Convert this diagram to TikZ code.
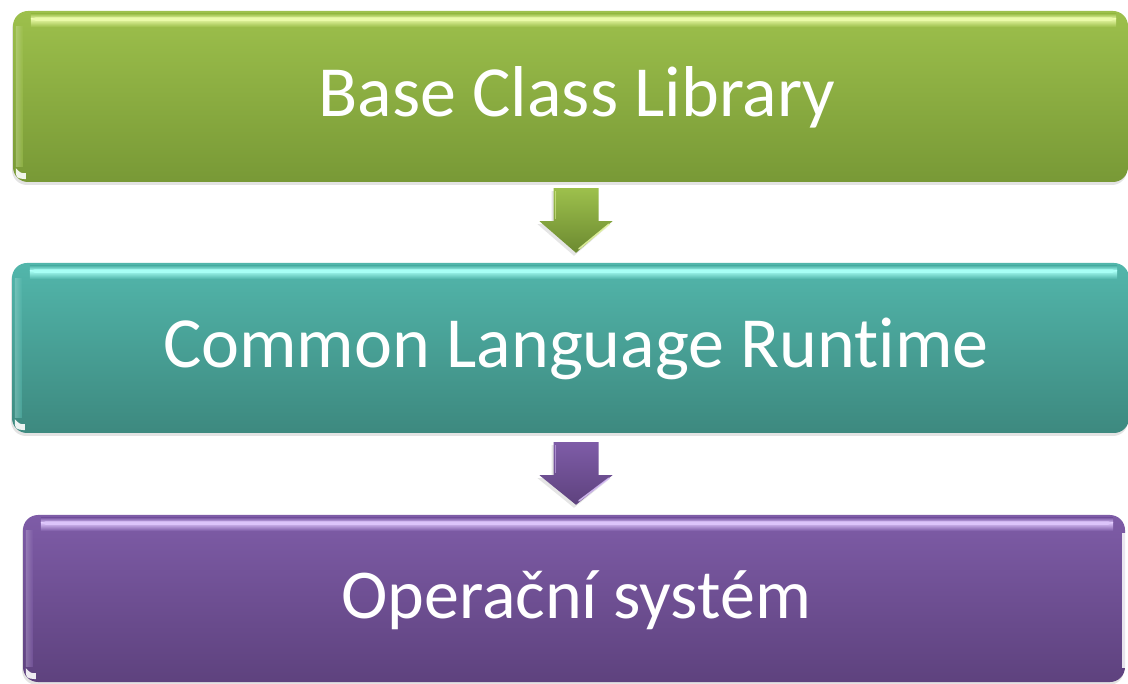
\documentclass[tikz,border=0pt]{standalone}
\usepackage{fontspec}
\setmainfont{Carlito}[Ligatures=NoCommon]
\usetikzlibrary{calc,shadows}

\definecolor{gTop}{HTML}{9DC04C}
\definecolor{gBot}{HTML}{789936}
\definecolor{gHi}{HTML}{EAFAA8}
\definecolor{tTop}{HTML}{52B6AB}
\definecolor{tBot}{HTML}{3D897F}
\definecolor{tHi}{HTML}{A8FFF5}
\definecolor{pTop}{HTML}{7E5CA7}
\definecolor{pBot}{HTML}{5E427E}
\definecolor{pHi}{HTML}{DCC4FA}

\tikzset{
  layerbox/.style={draw=none, rounded corners=15pt, text=white,
    inner sep=0pt,
    drop shadow={opacity=0.22, shadow xshift=-1pt, shadow yshift=-3pt}},
  layertext/.style={text=white, font=\fontsize{72}{80}\selectfont},
  glint/.style={fill=white, opacity=0.9},
}

% glossy highlight along the top edge and a glint at the lower left corner
\newcommand\topgloss[3]{%
  \shade[top color=#2, bottom color=#3]
    ($(#1.north west)+(18,3)$) rectangle ($(#1.north east)+(-12,8)$);
  \shade[top color=#3, bottom color=#2]
    ($(#1.north west)+(18,8)$) rectangle ($(#1.north east)+(-12,16)$);
  \fill[#3, rounded corners=3pt] ($(#1.north west)+(20,6.5)$) rectangle ($(#1.north east)+(-14,10)$);
  \shade[left color=#2!60!white, right color=#2, opacity=0.5]
    ($(#1.north west)+(3,16)$) rectangle ($(#1.south west)+(10,-16)$);
  \fill[glint] ($(#1.south west)+(3,-14)$) .. controls ($(#1.south west)+(3,-4)$) .. ($(#1.south west)+(13,-3)$)
    -- ($(#1.south west)+(13,-9)$) .. controls ($(#1.south west)+(8,-9)$) .. cycle;
}

% block arrow pointing down from coordinate #1 (top centre) to #2 (tip)
\newcommand\layerarrow[5]{%
  \shade[top color=#3, bottom color=#4,
    drop shadow={opacity=0.2, shadow xshift=-2pt, shadow yshift=-3pt}]
    ($(#1)+(-22.5,0)$) -- ($(#1)+(22.5,0)$) -- ($(#1)+(22.5,33)$)
    -- ($(#1)+(36.5,33)$) -- (#2) -- ($(#1)+(-36.5,33)$)
    -- ($(#1)+(-22.5,33)$) -- cycle;
  \draw[#5, line width=1.6pt, opacity=0.85, line cap=round]
    ($(#1)+(33,36)$) -- ($(#2)+(3,-4)$);
  \draw[#5, line width=1.2pt, opacity=0.5]
    ($(#1)+(-20.5,3)$) -- ($(#1)+(-20.5,31)$);
}

\begin{document}
\begin{tikzpicture}[x=1pt,y=-1pt]
  \fill[white] (0,0) rectangle (1128,684);
  \path[use as bounding box] (0,0) rectangle (1128,684);
  \clip (0,0) rectangle (1128,684);

  \node[layerbox, top color=gTop, bottom color=gBot,
        minimum width=1115pt, minimum height=171pt] (bcl) at (570.5,96.5) {};
  \node[layerbox, top color=tTop, bottom color=tBot,
        minimum width=1117pt, minimum height=170pt] (clr) at (570.5,348) {};
  \node[layerbox, top color=pTop, bottom color=pBot,
        minimum width=1102pt, minimum height=167pt] (os) at (574,598.5) {};

  \topgloss{bcl}{gTop}{gHi}
  \topgloss{clr}{tTop}{tHi}
  \topgloss{os}{pTop}{pHi}
  \fill[white, opacity=0.85] ($(os.north east)+(-3,18)$) rectangle ($(os.south east)+(1,-14)$);

  \node[layertext] (bcltext) at (577,97) {Base Class Library};
  \node[layertext] (clrtext) at (576,349) {Common Language Runtime};
  \node[layertext, font=\fontsize{70}{78}\selectfont] (ostext) at (576,600) {Operační systém};

  \coordinate (a1top) at ($(bcl.south)+(5.5,6)$);
  \coordinate (a1tip) at ($(clr.north)+(5.5,-10)$);
  \coordinate (a2top) at ($(clr.south)+(5.5,9)$);
  \coordinate (a2tip) at ($(os.north)+(2,-10)$);

  \layerarrow{a1top}{a1tip}{gTop}{gBot!90!black}{gHi}
  \layerarrow{a2top}{a2tip}{pTop}{pBot}{pHi}
\end{tikzpicture}
\end{document}
